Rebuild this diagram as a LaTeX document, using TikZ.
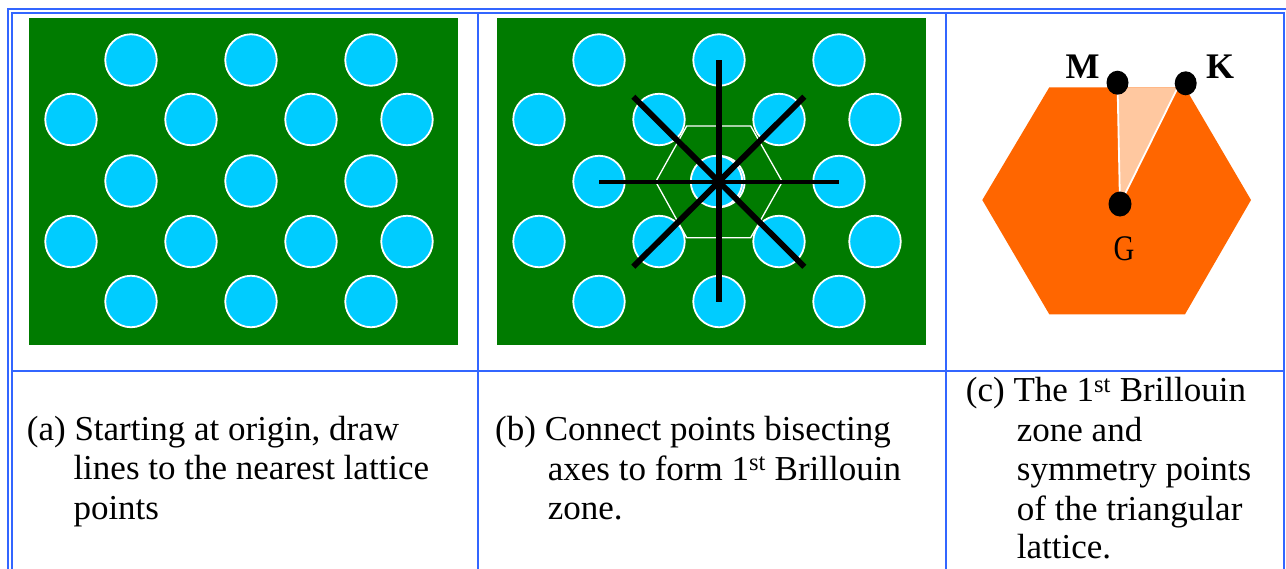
\documentclass[tikz,border=0pt]{standalone}
\usepackage{fontspec}
\usepackage{graphicx}
\setmainfont{Liberation Serif}
\usetikzlibrary{shapes.geometric}
\definecolor{gridblue}{RGB}{51,102,255}
\definecolor{bggreen}{RGB}{0,123,0}
\definecolor{latcyan}{RGB}{0,204,255}
\definecolor{bzorange}{RGB}{255,102,0}
\definecolor{bzpeach}{RGB}{255,200,160}
\begin{document}
\begin{tikzpicture}[x=1pt,y=-1pt,
  rule/.style={draw=gridblue,line width=2pt},
  latt/.style={circle,fill=latcyan,draw=white,line width=1.8pt,minimum size=51.5pt,inner sep=0pt},
  bond/.style={draw=black,line width=5.8pt},
  hbond/.style={draw=black,line width=4pt},
  zoneline/.style={draw=white,line width=1.3pt},
  wline/.style={draw=white,line width=1.8pt},
  dot/.style={ellipse,fill=black,inner sep=0pt,minimum width=22pt,minimum height=24pt},
  caption/.style={anchor=base west,inner sep=0pt,font=\fontsize{35}{39}\selectfont},
  sym/.style={inner sep=0pt,font=\fontsize{36}{40}\selectfont\bfseries},
  symreg/.style={inner sep=0pt,font=\fontsize{36}{40}\selectfont}]
\useasboundingbox (0,0) rectangle (1286,568);
\clip (0,0) rectangle (1286,568);
% table rules
\draw[rule] (8.2,600) -- (8.2,8.7) -- (1295,8.7);
\draw[rule] (12.3,600) -- (12.3,12.7) -- (1283.7,12.7) -- (1283.7,600);
\draw[rule] (477.7,12.7) -- (477.7,600);
\draw[rule] (945.5,12.7) -- (945.5,600);
\draw[rule] (12.3,370.7) -- (1283.7,370.7);
% green panels
\fill[bggreen] (29.3,18) rectangle (458,344.7);
\fill[bggreen] (497,18) rectangle (926,344.7);
% panel (a) lattice
\foreach \r/\y in {1/60,3/181,5/301.5}
  \foreach \x [count=\c] in {131,251,371}
    \node[latt] (a\r\c) at (\x,\y) {};
\foreach \r/\y in {2/119.5,4/241.5}
  \foreach \x [count=\c] in {71,191,311,407}
    \node[latt] (a\r\c) at (\x,\y) {};
% panel (b) zone hexagon
\draw[zoneline] (686.7,126) -- (750.7,126) -- (782.3,181.7) -- (750.7,237.7) -- (686.7,237.7) -- (655.7,181.7) -- cycle;
% panel (b) lattice
\foreach \r/\y in {1/60,3/181.5,5/301.5}
  \foreach \x [count=\c] in {599,719,839}
    \node[latt] (b\r\c) at (\x,\y) {};
\foreach \r/\y in {2/119.5,4/241.5}
  \foreach \x [count=\c] in {539,659,779,875}
    \node[latt] (b\r\c) at (\x,\y) {};
\node[latt] (b32s) at (716.5,181.5) {};
% panel (b) lines to nearest points
\coordinate (d1) at (633.3,96.7);
\coordinate (d2) at (804.3,266.7);
\coordinate (d3) at (804.3,96.7);
\coordinate (d4) at (633.3,266.7);
\draw[hbond] (b31.center) -- (b33.center);
\draw[bond] (b12.center) -- (b52.center);
\draw[bond] (d1) -- (d2);
\draw[bond] (d3) -- (d4);
% panel (c)
\fill[bzorange] (1049.3,87.3) -- (1185,87.3) -- (1251,200) -- (1185,314.3) -- (1049.3,314.3) -- (982.3,200) -- cycle;
\coordinate (Mp) at (1117.5,82.7);
\coordinate (Kp) at (1185.7,83.3);
\coordinate (Gp) at (1120,204);
\coordinate (kedge) at (1179.5,84);
\fill[bzpeach] (1118,87.3) -- (1178,87.3) -- (Gp) -- cycle;
\draw[wline] (Mp) -- (Gp);
\draw[wline] (kedge) -- (Gp);
\node[dot] (M) at (Mp) {};
\node[dot] (K) at (Kp) {};
\node[dot,minimum width=23pt,minimum height=25pt] (G) at (Gp) {};
\node[sym] (Mlab) at (1082.7,66.7) {M};
\node[sym] (Klab) at (1220,66.7) {K};
\node[symreg] (Glab) at (1124,248.3) {\scalebox{0.8}[1]{G}};
% captions
\node[caption] (capa1) at (26.7,440) {(a) Starting at origin, draw};
\node[caption] (capa2) at (73.3,479.5) {lines to the nearest lattice};
\node[caption] (capa3) at (73.3,519) {points};
\node[caption] (capb1) at (495,440) {(b) Connect points bisecting};
\node[caption] (capb2) at (547.7,480) {axes to form 1\textsuperscript{st} Brillouin};
\node[caption] (capb3) at (547.7,519) {zone.};
\node[caption] (capc1) at (965.7,401.7) {(c) The 1\textsuperscript{st} Brillouin};
\node[caption] (capc2) at (1016.7,441.7) {zone and};
\node[caption] (capc3) at (1016.7,480.5) {symmetry points};
\node[caption] (capc4) at (1016.7,520) {of the triangular};
\node[caption] (capc5) at (1016.7,558.5) {lattice.};
\end{tikzpicture}
\end{document}
